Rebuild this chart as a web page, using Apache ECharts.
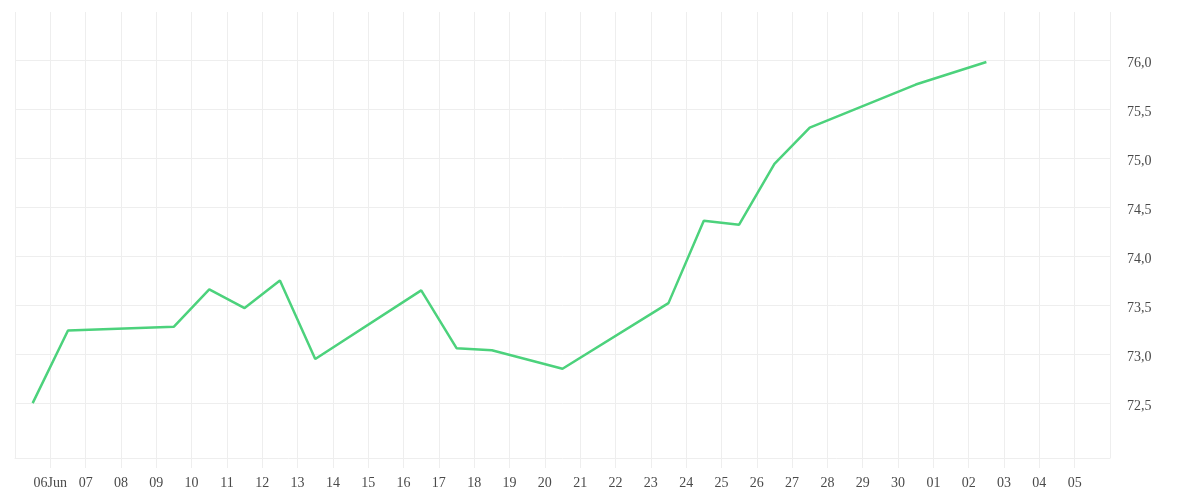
<!DOCTYPE html>
<html>
<head>
<meta charset="utf-8">
<script src="https://cdn.jsdelivr.net/npm/echarts@6/dist/echarts.min.js"></script>
<style>html,body{margin:0;padding:0;background:#fff}#c{width:1200px;height:500px}</style>
</head>
<body>
<div id="c"></div>
<script>
// Axis start day (00:00) and data
const axisStart = '2024-06-05';
const dates = ['2024-06-05','2024-06-06','2024-06-09','2024-06-10','2024-06-11','2024-06-12','2024-06-13','2024-06-16','2024-06-17','2024-06-18','2024-06-20','2024-06-23','2024-06-24','2024-06-25','2024-06-26','2024-06-27','2024-06-30','2024-07-02'];
const values = [72.50,73.24,73.28,73.66,73.47,73.75,72.95,73.65,73.06,73.04,72.85,73.52,74.36,74.32,74.94,75.31,75.75,75.98];
const tickLabels = ['05','06Jun','07','08','09','10','11','12','13','14','15','16','17','18','19','20','21','22','23','24','25','26','27','28','29','30','01','02','03','04','05','06'];
const yMin = 71.94, yMax = 76.49;

const DAY = 86400000;
const t0 = Date.parse(axisStart + 'T00:00:00Z');
const points = dates.map((d, i) => [(Date.parse(d + 'T12:00:00Z') - t0) / DAY, values[i]]);

const gridColor = '#eeeeee';
const font = {fontFamily: 'Liberation Serif', fontSize: 14, color: '#4a4a4a'};

// split line colours: bottom edge, 72.0 hidden, 72.5..76.0 shown, top edge hidden
const yLineColors = ['transparent', 'transparent', gridColor, gridColor, gridColor, gridColor, gridColor, gridColor, gridColor, gridColor, 'transparent'];

const chart = echarts.init(document.getElementById('c'), null, {renderer: 'canvas'});
chart.setOption({
  animation: false,
  backgroundColor: '#ffffff',
  grid: {left: 15, right: 90, top: 12, bottom: 42, containLabel: false},
  xAxis: {
    type: 'value',
    min: 0,
    max: tickLabels.length - 1,
    interval: 1,
    axisLine: {show: true, lineStyle: {color: gridColor, width: 1}},
    axisTick: {show: true, length: 10, lineStyle: {color: gridColor, width: 1}},
    splitLine: {show: true, lineStyle: {color: gridColor, width: 1}},
    axisLabel: Object.assign({
      margin: 18,
      showMinLabel: false,
      showMaxLabel: false,
      formatter: v => tickLabels[Math.round(v)]
    }, font)
  },
  yAxis: {
    type: 'value',
    position: 'right',
    min: yMin,
    max: yMax,
    splitNumber: 9,
    axisLine: {show: false},
    axisTick: {show: false},
    splitLine: {show: true, lineStyle: {color: yLineColors, width: 1}},
    axisLabel: Object.assign({
      margin: 17,
      showMinLabel: false,
      showMaxLabel: false,
      rich: {a: Object.assign({padding: [6, 0, 0, 0]}, font)},
      formatter: v => (Math.abs(v * 2 - Math.round(v * 2)) < 1e-6 && v > 72.2) ? '{a|' + v.toFixed(1).replace('.', ',') + '}' : ''
    }, font)
  },
  series: [{
    type: 'line',
    data: points,
    symbol: 'none',
    lineStyle: {color: '#4cd27c', width: 2.5},
    z: 3
  }]
});
</script>
</body>
</html>
